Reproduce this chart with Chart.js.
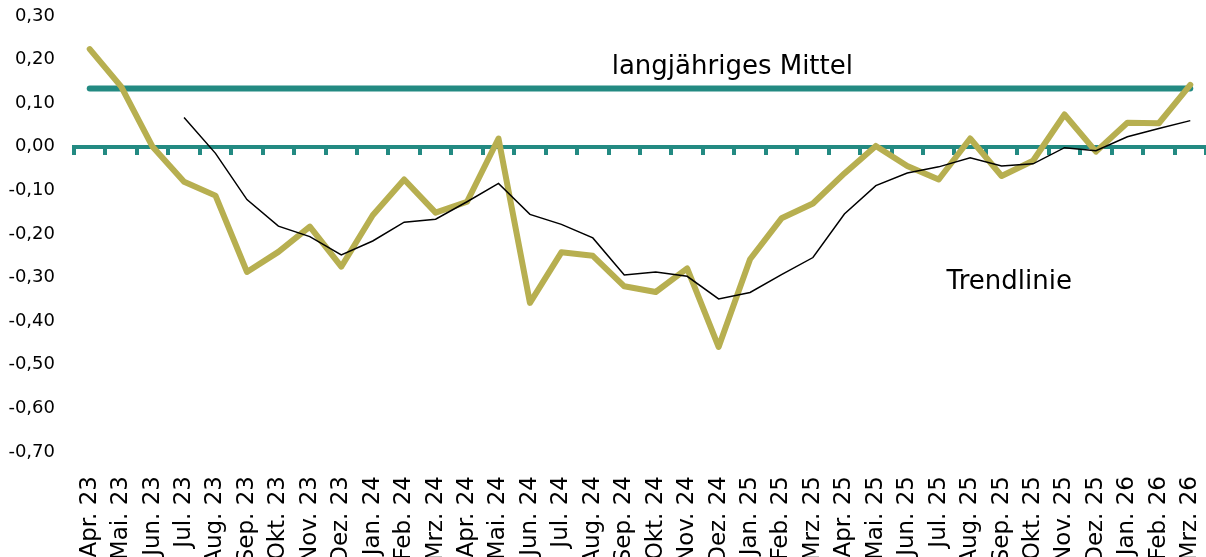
<!DOCTYPE html>
<html lang="de">
<head>
<meta charset="UTF-8">
<title>Abweichung</title>
<style>
  body { margin: 0; background: #fff; }
  #wrap { width: 1206px; height: 557px; position: relative; }
</style>
</head>
<body>
<div id="wrap"><canvas id="Chart"></canvas></div>

<script src="https://cdn.jsdelivr.net/npm/chart.js"></script>
<script>
// Monate
const monate = ['Apr. 23', 'Mai. 23', 'Jun. 23', 'Jul. 23', 'Aug. 23', 'Sep. 23', 'Okt. 23', 'Nov. 23', 'Dez. 23',
  'Jan. 24', 'Feb. 24', 'Mrz. 24', 'Apr. 24', 'Mai. 24', 'Jun. 24', 'Jul. 24', 'Aug. 24', 'Sep. 24', 'Okt. 24',
  'Nov. 24', 'Dez. 24', 'Jan. 25', 'Feb. 25', 'Mrz. 25', 'Apr. 25', 'Mai. 25', 'Jun. 25', 'Jul. 25', 'Aug. 25',
  'Sep. 25', 'Okt. 25', 'Nov. 25', 'Dez. 25', 'Jan. 26', 'Feb. 26', 'Mrz. 26'];

// Monatswerte (gelbe Linie)
const werte = [0.224, 0.138, 0.000, -0.080, -0.112, -0.287, -0.241, -0.183, -0.275, -0.157, -0.075, -0.151,
  -0.126, 0.019, -0.358, -0.242, -0.250, -0.320, -0.333, -0.279, -0.459, -0.258, -0.164, -0.130,
  -0.061, 0.002, -0.044, -0.075, 0.019, -0.067, -0.032, 0.074, -0.011, 0.055, 0.054, 0.142];

// Trendlinie (schwarz), beginnt erst im Jul. 23
const trend = [null, null, null, 0.067, -0.015, -0.121, -0.182, -0.206, -0.248, -0.216, -0.173, -0.166,
  -0.126, -0.084, -0.155, -0.178, -0.209, -0.294, -0.287, -0.297, -0.349, -0.334, -0.293, -0.254,
  -0.154, -0.089, -0.060, -0.046, -0.025, -0.044, -0.039, -0.002, -0.009, 0.023, 0.042, 0.060];

// langjähriges Mittel
const mittel = 0.134;

// y-Achse
const yMin = -0.7;
const yMax = 0.3;
const yStep = 0.1;

const TEAL = '#238a82';
const OLIVE = '#b7af50';

// Beschriftungen im Diagramm
const beschriftungen = [
  { text: 'langjähriges Mittel', x: 16.6, y: 0.168 },
  { text: 'Trendlinie', x: 27.25, y: -0.325 }
];

const textPlugin = {
  id: 'textPlugin',
  afterDatasetsDraw(chart) {
    const ctx = chart.ctx;
    const xs = chart.scales.x;
    const ys = chart.scales.y;
    ctx.save();
    ctx.font = '26px "DejaVu Sans"';
    ctx.fillStyle = '#000';
    ctx.textAlign = 'left';
    ctx.textBaseline = 'alphabetic';
    beschriftungen.forEach(b => {
      ctx.fillText(b.text, xs.getPixelForValue(b.x), ys.getPixelForValue(b.y));
    });
    ctx.restore();
  }
};

new Chart(document.getElementById('Chart').getContext('2d'), {
  type: 'line',
  data: {
    labels: monate,
    datasets: [{
      label: 'Trendlinie',
      data: trend,
      borderColor: '#000',
      borderWidth: 1.5,
      pointRadius: 0,
      tension: 0,
      spanGaps: false
    }, {
      label: 'Abweichung',
      data: werte,
      borderColor: OLIVE,
      borderWidth: 6,
      borderJoinStyle: 'round',
      borderCapStyle: 'round',
      pointRadius: 0,
      tension: 0
    }, {
      label: 'langjähriges Mittel',
      data: monate.map(() => mittel),
      borderColor: TEAL,
      borderWidth: 6,
      borderCapStyle: 'round',
      pointRadius: 0,
      tension: 0
    }]
  },
  options: {
    responsive: true,
    maintainAspectRatio: false,
    animation: false,
    layout: { padding: { top: 16, left: 0, right: 0, bottom: 0 } },
    plugins: {
      legend: { display: false },
      tooltip: { enabled: false }
    },
    scales: {
      x: {
        type: 'category',
        position: 'bottom',
        offset: true,
        grid: { display: false },
        border: { display: false },
        ticks: {
          autoSkip: false,
          minRotation: 90,
          maxRotation: 90,
          padding: 16,
          color: '#000',
          font: { family: 'DejaVu Sans', size: 23 }
        },
        afterFit(scale) {
          scale.height = 105;
          scale.paddingLeft = 0;
          scale.paddingRight = 0;
        }
      },
      // Nulllinie mit Teilstrichen
      x0: {
        type: 'category',
        position: { y: 0 },
        offset: true,
        grid: {
          display: true,
          drawOnChartArea: false,
          drawTicks: true,
          offset: true,
          tickLength: 6,
          tickWidth: 4,
          color: TEAL,
          lineWidth: 4
        },
        border: { display: true, color: TEAL, width: 4 },
        ticks: { display: false },
        afterFit(scale) {
          scale.paddingLeft = 0;
          scale.paddingRight = 0;
        }
      },
      y: {
        min: yMin,
        max: yMax,
        grid: { display: false, drawTicks: false },
        border: { display: false },
        ticks: {
          stepSize: yStep,
          padding: 19,
          color: '#000',
          font: { family: 'DejaVu Sans', size: 18 },
          callback: function (v) {
            if (Math.abs(v) < 1e-9) v = 0;
            return v.toFixed(2).replace('.', ',');
          }
        },
        afterFit(scale) {
          scale.width = 74;
          scale.paddingTop = 0;
          scale.paddingBottom = 0;
        }
      }
    }
  },
  plugins: [textPlugin]
});
</script>
</body>
</html>
